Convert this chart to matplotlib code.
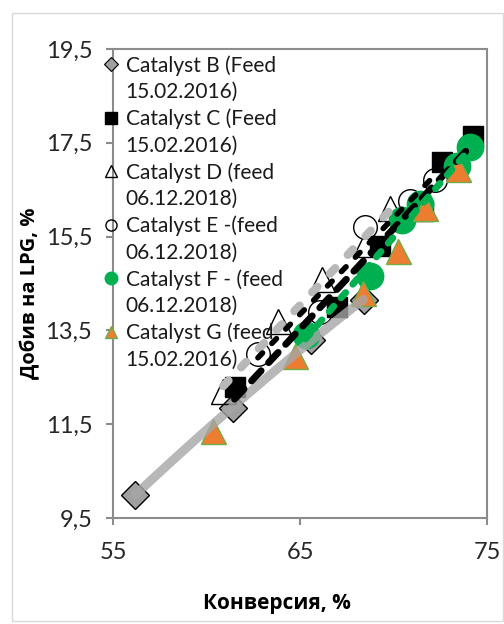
import numpy as np
import matplotlib.pyplot as plt
from matplotlib.lines import Line2D
from matplotlib.patches import Rectangle

plt.rcParams['font.family'] = ['Lato', 'Open Sans', 'DejaVu Sans']

# Catalyst B (Feed 15.02.2016)
b_x = [56.2, 61.4, 65.6, 68.4]
b_y = [10.0, 11.85, 13.3, 14.15]
# Catalyst C (Feed 15.02.2016)
c_x = [61.5, 67.0, 69.3, 71.6, 72.6, 74.25]
c_y = [12.3, 14.0, 15.3, 16.05, 17.1, 17.65]
# Catalyst D (feed 06.12.2018)
d_x = [60.9, 63.8, 66.2, 68.5, 69.8]
d_y = [12.2, 13.7, 14.6, 15.35, 16.1]
# Catalyst E -(feed 06.12.2018)
e_x = [62.75, 66.05, 68.5, 70.9, 72.2]
e_y = [13.0, 13.9, 15.7, 16.25, 16.7]
# Catalyst F - (feed 06.12.2018)
f_x = [65.3, 68.75, 70.45, 71.4, 73.4, 74.1]
f_y = [13.4, 14.65, 15.85, 16.2, 17.0, 17.4]
# Catalyst G (feed 15.02.2016)
g_x = [60.35, 64.75, 68.35, 70.25, 71.7, 73.45]
g_y = [11.35, 12.95, 14.3, 15.2, 16.1, 16.95]

labels = ["Catalyst B (Feed\n15.02.2016)",
          "Catalyst C (Feed\n15.02.2016)",
          "Catalyst D (feed\n06.12.2018)",
          "Catalyst E -(feed\n06.12.2018)",
          "Catalyst F - (feed\n06.12.2018)",
          "Catalyst G (feed\n15.02.2016)"]

x_ticks = [55, 65, 75]
y_ticks = [9.5, 11.5, 13.5, 15.5, 17.5, 19.5]

GREY = '#a0a0a0'
GREEN = '#00b050'
ORANGE = '#ed7d31'
AXC = '#8c8c8c'

fig = plt.figure(figsize=(5.04, 6.24), dpi=100)
fig.patches.append(Rectangle((12/504, 3/624), 491/504, 608/624, transform=fig.transFigure,
                             fill=False, edgecolor='#d9d9d9', lw=1))
ax = fig.add_axes([113/504, 1 - 518/624, 374/504, 469/624])

# markers
ax.plot(b_x, b_y, 'D', ms=14, mfc=GREY, mec='black', mew=1, ls='none', zorder=2)
ax.plot(c_x, c_y, 's', ms=15, mfc='black', mec='black', ls='none', zorder=2)
ax.plot(d_x, d_y, '^', ms=18, mfc='none', mec='black', mew=1, ls='none', zorder=2)
ax.plot(e_x, e_y, 'o', ms=17, mfc='none', mec='black', mew=1, ls='none', zorder=2)
ax.plot(f_x, f_y, 'o', ms=19, mfc=GREEN, mec=GREEN, ls='none', zorder=2)
ax.plot(g_x, g_y, '^', ms=18, mfc=ORANGE, mec='#70ad47', mew=1, ls='none', zorder=2)

# trendlines
def trend(xs, ys, deg, **kw):
    p = np.polyfit(xs, ys, deg)
    xx = np.linspace(min(xs), max(xs), 100)
    ax.plot(xx, np.polyval(p, xx), zorder=3, **kw)

trend(b_x, b_y, 2, color='#a6a6a6', lw=6.5, alpha=0.8, solid_capstyle='round')
trend(d_x, d_y, 1, color='#b8b8b8', lw=6, dashes=(0.9, 2.2), dash_capstyle='round')
trend(c_x, c_y, 1, color='black', lw=5, dashes=(2.0, 1.6), dash_capstyle='round')
trend(e_x, e_y, 1, color='black', lw=4, dashes=(1.2, 2.4), dash_capstyle='round')
trend(f_x, f_y, 1, color=GREEN, lw=5, dashes=(1.0, 1.6), dash_capstyle='round')

ax.set_xlim(55, 75)
ax.set_ylim(9.5, 19.5)
ax.set_xticks(x_ticks)
ax.set_yticks(y_ticks)
ax.set_yticklabels([f"{v:g}".replace('.', ',') for v in y_ticks])
ax.tick_params(axis='both', direction='out', length=5, width=1.5, color=AXC,
               labelsize=17, labelcolor='#262626')
ax.tick_params(axis='y', pad=10)
ax.tick_params(axis='x', pad=12)
for s in ax.spines.values():
    s.set_color(AXC)
    s.set_linewidth(1.5)

ax.set_xlabel("Конверсия, %", fontsize=15, fontweight='bold', family='Open Sans')
ax.set_ylabel("Добив на LPG, %", fontsize=14.5, fontweight='bold', family='Open Sans')
ax.xaxis.set_label_coords(0.4385, -0.16)
ax.yaxis.set_label_coords(-0.195, 0.48)

handles = [
    Line2D([], [], marker='D', ms=7, mfc=GREY, mec='black', mew=0.8, ls='none'),
    Line2D([], [], marker='s', ms=8, mfc='black', mec='black', ls='none'),
    Line2D([], [], marker='^', ms=9, mfc='none', mec='black', mew=1, ls='none'),
    Line2D([], [], marker='o', ms=8, mfc='none', mec='black', mew=1, ls='none'),
    Line2D([], [], marker='o', ms=9, mfc=GREEN, mec=GREEN, ls='none'),
    Line2D([], [], marker='^', ms=9, mfc=ORANGE, mec='#70ad47', mew=1, ls='none'),
]
# one legend row per text line so the marker sits on the first line
leg_h, leg_l = [], []
for h, lab in zip(handles, labels):
    first, second = lab.split('\n')
    leg_h += [h, Line2D([], [], ls='none')]
    leg_l += [first, second]

leg = ax.legend(leg_h, leg_l, loc='upper left', bbox_to_anchor=(-0.03, 0.987),
                frameon=False, fontsize=15, handlelength=0.9, handletextpad=0.25,
                borderpad=0, borderaxespad=0, labelspacing=0.31)
for t in leg.get_texts():
    t.set_color('#1a1a1a')

fig.savefig('out.png', dpi=100)
